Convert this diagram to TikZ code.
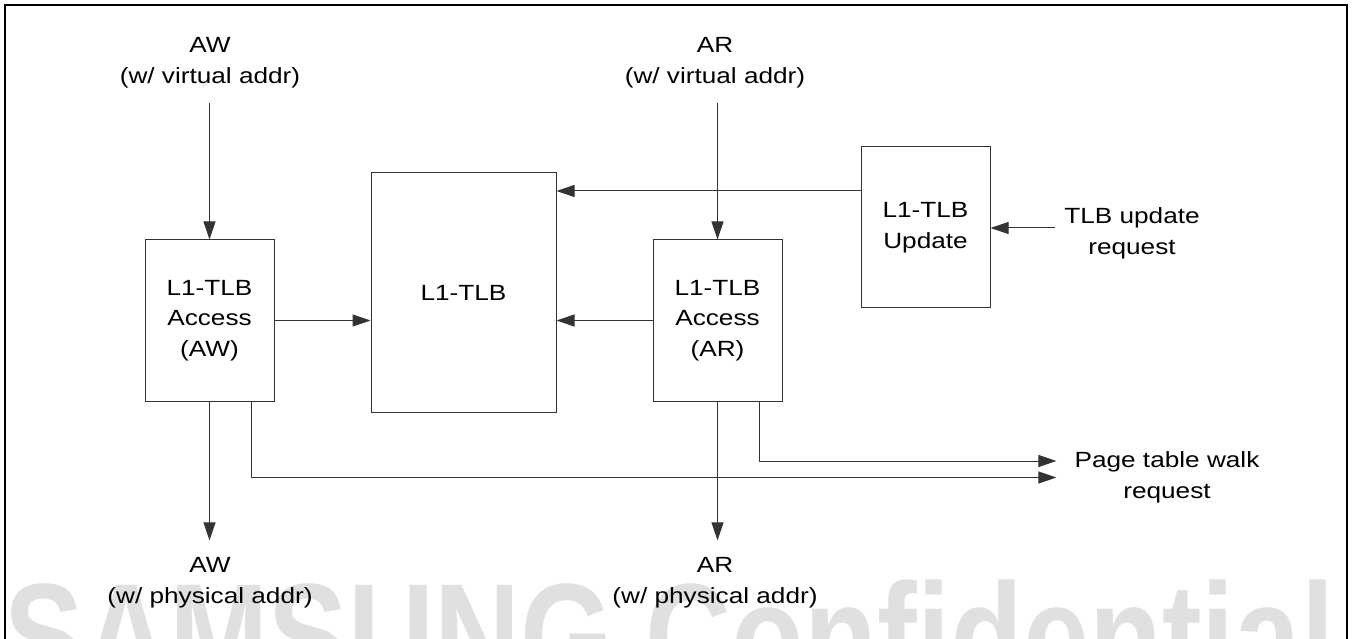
\documentclass[tikz,border=0pt]{standalone}
\usepackage{fontspec}
\setmainfont{Liberation Sans}[FakeStretch=1.19]
\usepackage{graphicx}
\usetikzlibrary{arrows.meta}
\begin{document}
\begin{tikzpicture}[x=1pt,y=-1pt,
  every node/.style={font=\fontsize{22}{30.5}\selectfont, inner sep=0pt, align=center},
  blk/.style={draw=black!80, line width=1pt, minimum width=129pt, minimum height=161pt},
  arr/.style={draw=black!80, line width=1pt, -{Triangle[length=18pt,width=12pt]}},
  frame/.style={draw=black, line width=2pt}]
\useasboundingbox (0,0) rectangle (1353,639);
\clip (0,0) rectangle (1353,639);
% watermark
\node[anchor=base west, text=black!12] (wm) at (4,688)
  {\resizebox{1330pt}{\height}{\fontsize{150}{150}\selectfont\bfseries SAMSUNG Confidential}};
% frame
\draw[frame] (5,5) rectangle (1347,700);
% blocks
\node[blk] (aw) at (209.5,320.5) {L1-TLB\\Access\\(AW)};
\node[blk, minimum width=185pt, minimum height=239pt] (tlb) at (463.5,292.5) {L1-TLB};
\node[blk] (ar) at (717.5,320.5) {L1-TLB\\Access\\(AR)};
\node[blk] (upd) at (925.5,227.5) {L1-TLB\\Update};
% labels
\node (awin) at (210,62.7) {AW\\(w/ virtual addr)};
\node (arin) at (715,62.7) {AR\\(w/ virtual addr)};
\node (awout) at (210,582.7) {AW\\(w/ physical addr)};
\node (arout) at (715,582.7) {AR\\(w/ physical addr)};
\node (tur) at (1132,233.5) {TLB update\\request};
\node (ptw) at (1167,477.5) {Page table walk\\request};
% connectors
\coordinate (awt) at (aw.north |- awin.south);
\draw[arr] ([yshift=-15pt]awt) -- (aw.north);
\coordinate (art) at (ar.north |- arin.south);
\draw[arr] ([yshift=-15pt]art) -- (ar.north);
\coordinate (awb) at (aw.south |- awout.north);
\draw[arr] (aw.south) -- ([yshift=17pt]awb);
\coordinate (arb) at (ar.south |- arout.north);
\draw[arr] (ar.south) -- ([yshift=17pt]arb);
\draw[arr] (aw.east) -- (aw.east -| tlb.west);
\draw[arr] (ar.west) -- (ar.west -| tlb.east);
\coordinate (upds) at ([yshift=36.5pt]upd.west);
\draw[arr] (upds) -- (upds -| tlb.east);
\coordinate (turs) at ([xshift=-9pt,yshift=5.5pt]tur.west);
\draw[arr] (turs) -- (turs -| upd.east);
\draw[arr] ([xshift=-23pt]aw.south east) |- ([xshift=-18pt]ptw.west);
\draw[arr] ([xshift=-23pt]ar.south east) |- ([xshift=-18pt,yshift=16.5pt]ptw.west);
\end{tikzpicture}
\end{document}
